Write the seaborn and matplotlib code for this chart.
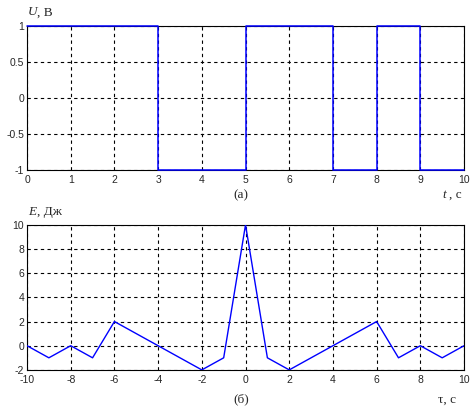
import numpy as np
import pandas as pd
import matplotlib
matplotlib.use("Agg")
import matplotlib.pyplot as plt
import seaborn as sns

# сигнал (10 символів) і його автокореляційна функція
t = [0, 1, 2, 3, 4, 5, 6, 7, 8, 9, 10]
u = [1, 1, 1, -1, -1, 1, 1, -1, 1, -1, -1]
tau = [-10, -9, -8, -7, -6, -5, -4, -3, -2, -1, 0, 1, 2, 3, 4, 5, 6, 7, 8, 9, 10]
e = [0, -1, 0, -1, 2, 1, 0, -1, -2, -1, 10, -1, -2, -1, 0, 1, 2, -1, 0, -1, 0]

sns.set_style("white")
plt.rcParams['font.family'] = ['Liberation Sans', 'DejaVu Sans']
plt.rcParams['font.size'] = 7.5
plt.rcParams['axes.unicode_minus'] = False

df_u = pd.DataFrame({"t": t, "u": u})
df_e = pd.DataFrame({"tau": tau, "e": e})

fig = plt.figure(figsize=(4.74, 4.11), dpi=100)
ax1 = fig.add_axes([0.057, 0.586, 0.922, 0.351])
ax2 = fig.add_axes([0.057, 0.100, 0.922, 0.353])

sns.lineplot(data=df_u, x="t", y="u", ax=ax1, color="blue", lw=1.1,
             drawstyle="steps-post", clip_on=False, zorder=5)
sns.lineplot(data=df_e, x="tau", y="e", ax=ax2, color="blue", lw=1.0, zorder=5)

ax1.set_xlim(0, 10)
ax1.set_ylim(-1, 1)
ax1.set_xticks(range(0, 11))
ax1.set_yticks([-1, -0.5, 0, 0.5, 1])
ax1.set_yticklabels(["-1", "-0.5", "0", "0.5", "1"])

ax2.set_xlim(-10, 10)
ax2.set_ylim(-2, 10)
ax2.set_xticks(range(-10, 11, 2))
ax2.set_yticks(range(-2, 11, 2))

for ax in (ax1, ax2):
    ax.set_xlabel("")
    ax.set_ylabel("")
    ax.grid(True, color="black", linestyle=(0, (3, 3)), linewidth=0.8)
    ax.tick_params(direction="in", length=3, width=0.8, pad=2, labelsize=7.5)
    ax.tick_params(axis="x", pad=3.5)
    for s in ax.spines.values():
        s.set_color("black")
        s.set_linewidth(0.8)

serif = ['Liberation Serif', 'DejaVu Serif']
fs = 9.5
fig.text(0.059, 0.955, "U", family=serif, style="italic", fontsize=fs, ha="left", va="bottom")
fig.text(0.079, 0.955, ", В", family=serif, fontsize=fs, ha="left", va="bottom")
fig.text(0.059, 0.470, "E", family=serif, style="italic", fontsize=fs, ha="left", va="bottom")
fig.text(0.079, 0.470, ", Дж", family=serif, fontsize=fs, ha="left", va="bottom")
fig.text(0.508, 0.525, "(а)", family=serif, fontsize=fs, ha="center", va="center")
fig.text(0.508, 0.028, "(б)", family=serif, fontsize=fs, ha="center", va="center")
fig.text(0.938, 0.525, "t", family=serif, style="italic", fontsize=fs, ha="center", va="center")
fig.text(0.960, 0.525, ", с", family=serif, fontsize=fs, ha="center", va="center")
fig.text(0.942, 0.028, "τ, с", family=serif, fontsize=fs, ha="center", va="center")

fig.savefig("out.png", dpi=100)
